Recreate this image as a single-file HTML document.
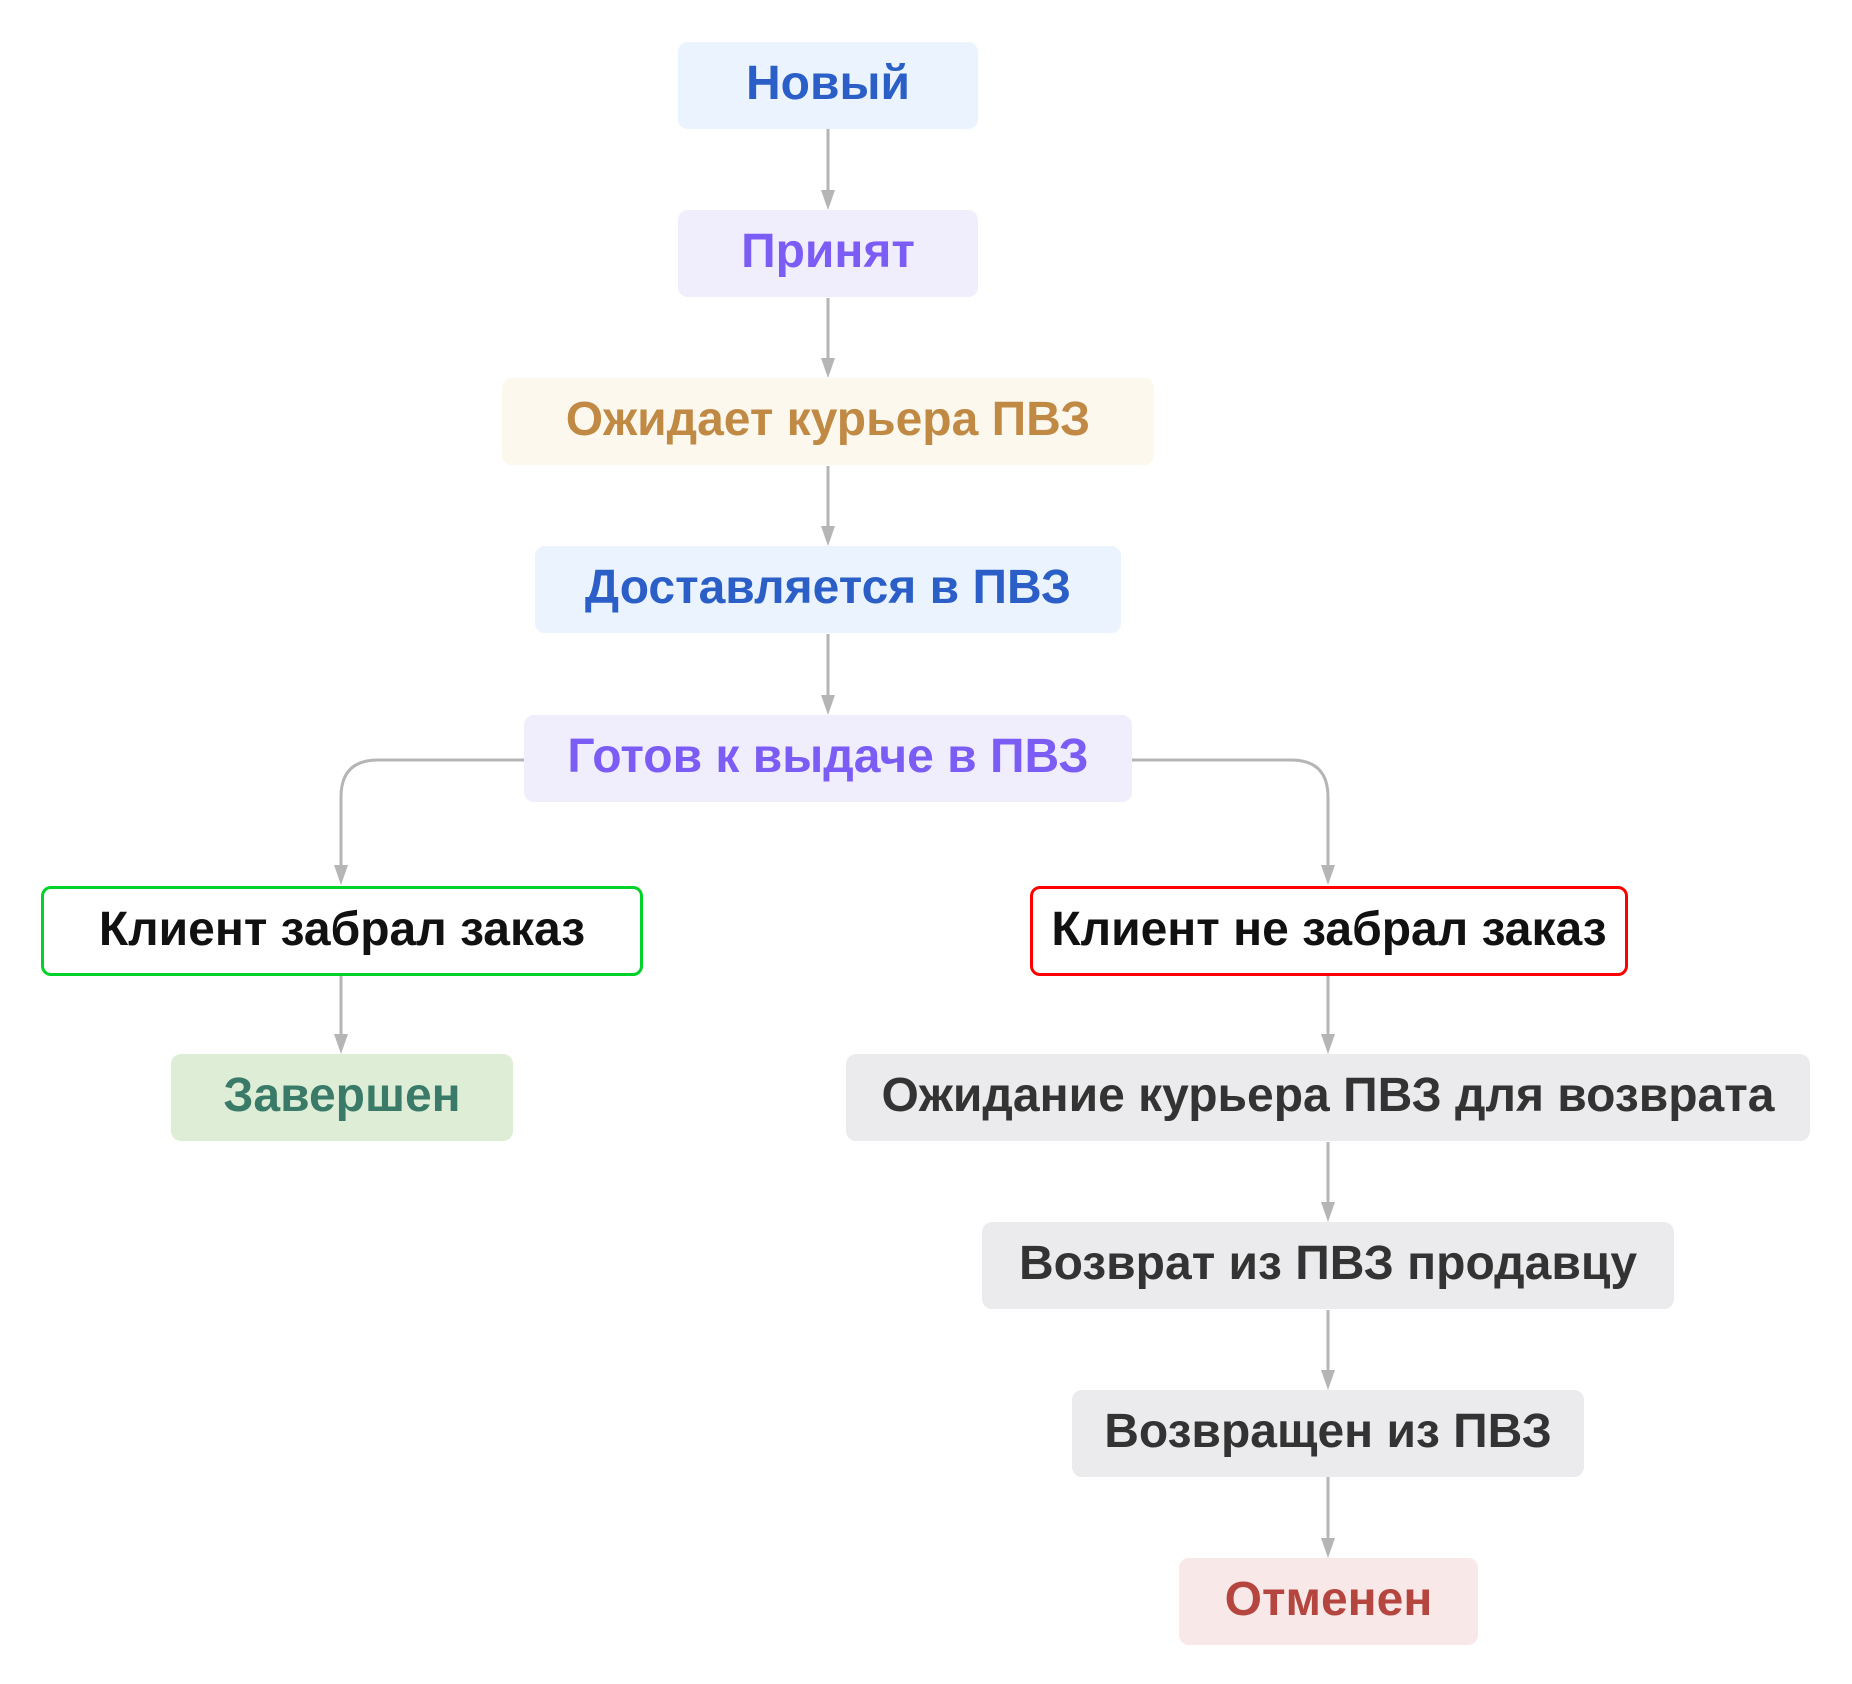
<!DOCTYPE html>
<html><head><meta charset="utf-8"><style>
html,body{margin:0;padding:0;background:#fff;}
body{width:1852px;height:1684px;position:relative;overflow:hidden;font-family:"Liberation Sans","Noto Sans CJK SC",sans-serif;}
.n{position:absolute;height:87px;border-radius:10px;display:flex;align-items:center;justify-content:center;font-weight:bold;font-size:48px;box-sizing:border-box;white-space:nowrap;padding-bottom:4px;}
svg{position:absolute;left:0;top:0;}
</style></head><body>
<svg width="1852" height="1684">
<g stroke="#b5b5b5" stroke-width="3" fill="none">
<line x1="828" y1="129" x2="828" y2="190"/>
<line x1="828" y1="298" x2="828" y2="358"/>
<line x1="828" y1="466" x2="828" y2="526"/>
<line x1="828" y1="634" x2="828" y2="695"/>
<path d="M524,760 H378 Q341,760 341,797 V865"/>
<path d="M1132,760 H1291 Q1328,760 1328,797 V865"/>
<line x1="341" y1="975" x2="341" y2="1034"/>
<line x1="1328" y1="975" x2="1328" y2="1034"/>
<line x1="1328" y1="1142" x2="1328" y2="1202"/>
<line x1="1328" y1="1310" x2="1328" y2="1370"/>
<line x1="1328" y1="1477" x2="1328" y2="1538"/>
</g>
<g fill="#b5b5b5">
<path d="M821,190 L835,190 L828,210 Z"/>
<path d="M821,358 L835,358 L828,378 Z"/>
<path d="M821,526 L835,526 L828,546 Z"/>
<path d="M821,695 L835,695 L828,715 Z"/>
<path d="M334,865 L348,865 L341,885 Z"/>
<path d="M1321,865 L1335,865 L1328,885 Z"/>
<path d="M334,1034 L348,1034 L341,1054 Z"/>
<path d="M1321,1034 L1335,1034 L1328,1054 Z"/>
<path d="M1321,1202 L1335,1202 L1328,1222 Z"/>
<path d="M1321,1370 L1335,1370 L1328,1390 Z"/>
<path d="M1321,1538 L1335,1538 L1328,1558 Z"/>
</g>
</svg>
<div class="n" style="left:678px;top:42px;width:300px;background:#ebf4fe;color:#2b5fc7;">Новый</div>
<div class="n" style="left:678px;top:210px;width:300px;background:#f0eefd;color:#7b5cf5;">Принят</div>
<div class="n" style="left:502px;top:378px;width:652px;background:#fcf8ee;color:#c08a45;">Ожидает курьера ПВЗ</div>
<div class="n" style="left:535px;top:546px;width:586px;background:#ebf4fe;color:#2b5fc7;">Доставляется в ПВЗ</div>
<div class="n" style="left:524px;top:715px;width:608px;background:#f0eefd;color:#7b5cf5;">Готов к выдаче в ПВЗ</div>
<div class="n" style="left:41px;top:886px;width:602px;height:90px;border:3px solid #00d22a;background:#fff;color:#111;">Клиент забрал заказ</div>
<div class="n" style="left:1030px;top:886px;width:598px;height:90px;border:3px solid #f00;background:#fff;color:#111;">Клиент не забрал заказ</div>
<div class="n" style="left:171px;top:1054px;width:342px;background:#deeed6;color:#3a7a68;">Завершен</div>
<div class="n" style="left:846px;top:1054px;width:964px;background:#ebebed;color:#333;">Ожидание курьера ПВЗ для возврата</div>
<div class="n" style="left:982px;top:1222px;width:692px;background:#ebebed;color:#333;">Возврат из ПВЗ продавцу</div>
<div class="n" style="left:1072px;top:1390px;width:512px;background:#ebebed;color:#333;">Возвращен из ПВЗ</div>
<div class="n" style="left:1179px;top:1558px;width:299px;background:#f8e8e8;color:#b5463f;">Отменен</div>
</body></html>
